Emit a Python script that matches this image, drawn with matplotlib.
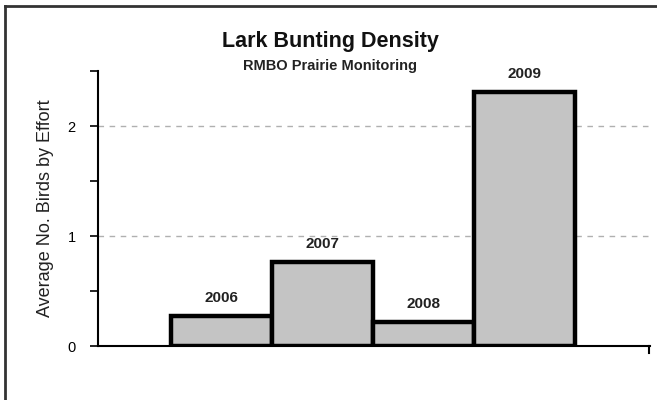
import numpy as np
import matplotlib
matplotlib.use("Agg")
import matplotlib.pyplot as plt
from matplotlib.lines import Line2D

# data
years = ['2006', '2007', '2008', '2009']
density = [0.27, 0.76, 0.22, 2.31]
y_ticks = [0, 1, 2]

plt.rcParams['font.family'] = ['Liberation Sans', 'DejaVu Sans']

fig = plt.figure(figsize=(6.57, 4.0), dpi=100)
ax = fig.add_axes([0.149, 0.135, 0.84, 0.6875])

x = np.arange(len(years))
ax.bar(x, density, width=1.0, color='#c4c4c4', edgecolor='black', linewidth=3.2, zorder=3)

for xi, v, yr in zip(x, density, years):
    ax.annotate(yr, (xi, v), xytext=(0, 8), textcoords='offset points',
                ha='center', va='bottom', fontsize=11, fontweight='bold', color='#222222')

ax.set_xlim(-1.22, 4.24)
ax.set_ylim(0, 2.5)
ax.set_yticks(y_ticks)
ax.set_yticks([0.5, 1.5, 2.5], minor=True)
ax.tick_params(axis='y', which='both', direction='out', length=6, width=1.2,
               labelsize=10.5, colors='black', pad=10)
ax.set_xticks([])

ax.grid(axis='y', which='major', linestyle=(0, (4, 4)), color='#b0b0b0', linewidth=1, zorder=0)
ax.spines['top'].set_visible(False)
ax.spines['right'].set_visible(False)
ax.spines['left'].set_linewidth(1.5)
ax.spines['bottom'].set_linewidth(1.5)

# small down tick at the right end of the x axis
ax.plot([4.23, 4.23], [0, -0.06], color='black', lw=1.5, clip_on=False)

ax.set_ylabel('Average No. Birds by Effort', fontsize=13, labelpad=10, color='#222222')

fig.text(0.503, 0.895, 'Lark Bunting Density', ha='center', va='center',
         fontsize=15.5, fontweight='bold', color='#111111')
fig.text(0.503, 0.836, 'RMBO Prairie Monitoring', ha='center', va='center',
         fontsize=10.5, fontweight='bold', color='#222222')

# outer frame (top and left edges visible in the reference)
fig.add_artist(Line2D([0.008, 1.0], [0.985, 0.985], color='#333333', lw=2, transform=fig.transFigure))
fig.add_artist(Line2D([0.008, 0.008], [0.0, 0.985], color='#333333', lw=2, transform=fig.transFigure))

fig.savefig('out.png', dpi=100)
